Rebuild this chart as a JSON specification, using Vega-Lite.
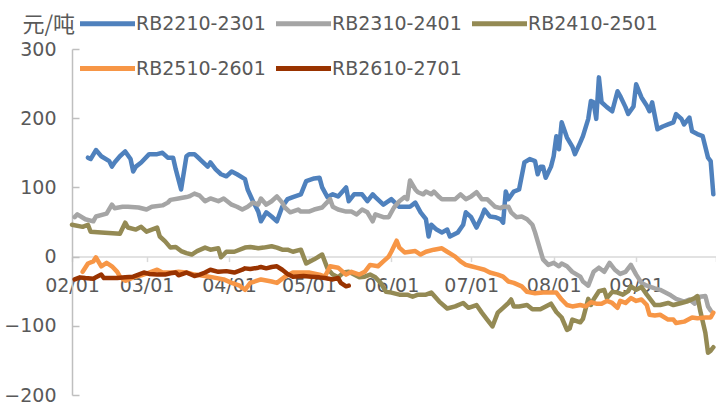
{
  "$schema": "https://vega.github.io/schema/vega-lite/v6.json",
  "autosize": {"type": "none"},
  "width": 644,
  "height": 346,
  "padding": {"left": 72, "top": 49, "right": 0, "bottom": 10},
  "background": "white",
  "config": {"view": {"stroke": null}, "font": "DejaVu Sans"},
  "datasets": {
    "a": [
      {"d":"2023/02/07","v":143},{"d":"2023/02/08","v":141},{"d":"2023/02/10","v":154},{"d":"2023/02/12","v":145},{"d":"2023/02/15","v":138},{"d":"2023/02/16","v":130},{"d":"2023/02/17","v":136},{"d":"2023/02/19","v":145},{"d":"2023/02/21","v":152},{"d":"2023/02/23","v":141},{"d":"2023/02/24","v":123},{"d":"2023/02/25","v":130},{"d":"2023/02/27","v":136},{"d":"2023/03/02","v":148},{"d":"2023/03/05","v":148},{"d":"2023/03/07","v":150},{"d":"2023/03/09","v":143},{"d":"2023/03/11","v":143},{"d":"2023/03/12","v":126},{"d":"2023/03/14","v":97},{"d":"2023/03/16","v":145},{"d":"2023/03/17","v":148},{"d":"2023/03/19","v":148},{"d":"2023/03/21","v":141},{"d":"2023/03/24","v":130},{"d":"2023/03/25","v":136},{"d":"2023/03/27","v":126},{"d":"2023/03/29","v":119},{"d":"2023/03/31","v":116},{"d":"2023/04/02","v":123},{"d":"2023/04/04","v":119},{"d":"2023/04/07","v":112},{"d":"2023/04/08","v":97},{"d":"2023/04/10","v":80},{"d":"2023/04/12","v":65},{"d":"2023/04/13","v":51},{"d":"2023/04/15","v":64},{"d":"2023/04/17","v":58},{"d":"2023/04/19","v":51},{"d":"2023/04/21","v":72},{"d":"2023/04/23","v":83},{"d":"2023/04/25","v":86},{"d":"2023/04/28","v":90},{"d":"2023/04/30","v":109},{"d":"2023/05/03","v":113},{"d":"2023/05/05","v":114},{"d":"2023/05/06","v":100},{"d":"2023/05/08","v":86},{"d":"2023/05/10","v":90},{"d":"2023/05/12","v":87},{"d":"2023/05/15","v":100},{"d":"2023/05/16","v":80},{"d":"2023/05/18","v":90},{"d":"2023/05/21","v":90},{"d":"2023/05/23","v":80},{"d":"2023/05/25","v":90},{"d":"2023/05/26","v":86},{"d":"2023/05/29","v":75},{"d":"2023/06/01","v":83},{"d":"2023/06/04","v":72},{"d":"2023/06/08","v":72},{"d":"2023/06/10","v":78},{"d":"2023/06/12","v":64},{"d":"2023/06/14","v":54},{"d":"2023/06/15","v":29},{"d":"2023/06/16","v":46},{"d":"2023/06/18","v":39},{"d":"2023/06/20","v":35},{"d":"2023/06/22","v":39},{"d":"2023/06/23","v":29},{"d":"2023/06/26","v":35},{"d":"2023/06/28","v":46},{"d":"2023/06/29","v":64},{"d":"2023/07/01","v":57},{"d":"2023/07/03","v":42},{"d":"2023/07/05","v":58},{"d":"2023/07/06","v":68},{"d":"2023/07/08","v":58},{"d":"2023/07/10","v":57},{"d":"2023/07/12","v":54},{"d":"2023/07/13","v":49},{"d":"2023/07/14","v":94},{"d":"2023/07/15","v":83},{"d":"2023/07/17","v":94},{"d":"2023/07/19","v":97},{"d":"2023/07/21","v":136},{"d":"2023/07/23","v":141},{"d":"2023/07/25","v":138},{"d":"2023/07/26","v":119},{"d":"2023/07/27","v":130},{"d":"2023/07/28","v":130},{"d":"2023/07/29","v":114},{"d":"2023/07/31","v":130},{"d":"2023/08/01","v":145},{"d":"2023/08/02","v":174},{"d":"2023/08/03","v":155},{"d":"2023/08/04","v":194},{"d":"2023/08/06","v":172},{"d":"2023/08/08","v":159},{"d":"2023/08/09","v":148},{"d":"2023/08/11","v":165},{"d":"2023/08/12","v":174},{"d":"2023/08/14","v":199},{"d":"2023/08/15","v":225},{"d":"2023/08/16","v":223},{"d":"2023/08/17","v":199},{"d":"2023/08/18","v":259},{"d":"2023/08/19","v":223},{"d":"2023/08/21","v":216},{"d":"2023/08/23","v":210},{"d":"2023/08/25","v":239},{"d":"2023/08/26","v":232},{"d":"2023/08/28","v":216},{"d":"2023/08/29","v":206},{"d":"2023/08/31","v":217},{"d":"2023/09/01","v":249},{"d":"2023/09/03","v":230},{"d":"2023/09/05","v":218},{"d":"2023/09/06","v":210},{"d":"2023/09/07","v":223},{"d":"2023/09/09","v":184},{"d":"2023/09/11","v":188},{"d":"2023/09/13","v":191},{"d":"2023/09/15","v":194},{"d":"2023/09/16","v":206},{"d":"2023/09/18","v":199},{"d":"2023/09/19","v":191},{"d":"2023/09/21","v":201},{"d":"2023/09/22","v":181},{"d":"2023/09/24","v":177},{"d":"2023/09/26","v":174},{"d":"2023/09/28","v":143},{"d":"2023/09/29","v":138},{"d":"2023/09/30","v":90}
    ],
    "b": [
      {"d":"2023/02/02","v":57},{"d":"2023/02/03","v":61},{"d":"2023/02/06","v":54},{"d":"2023/02/09","v":51},{"d":"2023/02/10","v":58},{"d":"2023/02/14","v":62},{"d":"2023/02/16","v":75},{"d":"2023/02/17","v":70},{"d":"2023/02/20","v":72},{"d":"2023/02/22","v":72},{"d":"2023/02/26","v":71},{"d":"2023/03/01","v":68},{"d":"2023/03/03","v":72},{"d":"2023/03/07","v":74},{"d":"2023/03/09","v":78},{"d":"2023/03/10","v":82},{"d":"2023/03/13","v":84},{"d":"2023/03/16","v":86},{"d":"2023/03/17","v":87},{"d":"2023/03/19","v":91},{"d":"2023/03/21","v":88},{"d":"2023/03/23","v":80},{"d":"2023/03/25","v":84},{"d":"2023/03/28","v":80},{"d":"2023/03/30","v":84},{"d":"2023/04/02","v":75},{"d":"2023/04/04","v":72},{"d":"2023/04/06","v":68},{"d":"2023/04/08","v":72},{"d":"2023/04/10","v":78},{"d":"2023/04/12","v":75},{"d":"2023/04/13","v":84},{"d":"2023/04/15","v":75},{"d":"2023/04/17","v":80},{"d":"2023/04/19","v":87},{"d":"2023/04/21","v":78},{"d":"2023/04/22","v":71},{"d":"2023/04/24","v":64},{"d":"2023/04/27","v":68},{"d":"2023/04/28","v":65},{"d":"2023/05/01","v":65},{"d":"2023/05/03","v":68},{"d":"2023/05/06","v":71},{"d":"2023/05/09","v":83},{"d":"2023/05/10","v":72},{"d":"2023/05/12","v":68},{"d":"2023/05/15","v":65},{"d":"2023/05/17","v":65},{"d":"2023/05/19","v":61},{"d":"2023/05/21","v":68},{"d":"2023/05/23","v":64},{"d":"2023/05/25","v":51},{"d":"2023/05/26","v":61},{"d":"2023/05/29","v":57},{"d":"2023/05/31","v":57},{"d":"2023/06/02","v":71},{"d":"2023/06/04","v":80},{"d":"2023/06/06","v":86},{"d":"2023/06/07","v":83},{"d":"2023/06/08","v":110},{"d":"2023/06/10","v":97},{"d":"2023/06/11","v":93},{"d":"2023/06/13","v":90},{"d":"2023/06/14","v":94},{"d":"2023/06/16","v":90},{"d":"2023/06/17","v":94},{"d":"2023/06/19","v":86},{"d":"2023/06/20","v":83},{"d":"2023/06/22","v":83},{"d":"2023/06/25","v":83},{"d":"2023/06/27","v":90},{"d":"2023/06/29","v":83},{"d":"2023/07/01","v":87},{"d":"2023/07/03","v":93},{"d":"2023/07/05","v":83},{"d":"2023/07/07","v":83},{"d":"2023/07/10","v":72},{"d":"2023/07/12","v":70},{"d":"2023/07/13","v":72},{"d":"2023/07/15","v":72},{"d":"2023/07/16","v":64},{"d":"2023/07/18","v":57},{"d":"2023/07/20","v":58},{"d":"2023/07/22","v":54},{"d":"2023/07/24","v":46},{"d":"2023/07/25","v":35},{"d":"2023/07/26","v":22},{"d":"2023/07/28","v":-4},{"d":"2023/07/30","v":-12},{"d":"2023/08/01","v":-9},{"d":"2023/08/03","v":-14},{"d":"2023/08/04","v":-10},{"d":"2023/08/06","v":-14},{"d":"2023/08/08","v":-22},{"d":"2023/08/11","v":-29},{"d":"2023/08/12","v":-36},{"d":"2023/08/14","v":-42},{"d":"2023/08/16","v":-22},{"d":"2023/08/18","v":-16},{"d":"2023/08/20","v":-22},{"d":"2023/08/22","v":-9},{"d":"2023/08/24","v":-19},{"d":"2023/08/26","v":-25},{"d":"2023/08/28","v":-22},{"d":"2023/08/30","v":-12},{"d":"2023/09/01","v":-26},{"d":"2023/09/03","v":-38},{"d":"2023/09/05","v":-42},{"d":"2023/09/08","v":-46},{"d":"2023/09/10","v":-48},{"d":"2023/09/12","v":-52},{"d":"2023/09/14","v":-56},{"d":"2023/09/16","v":-61},{"d":"2023/09/19","v":-65},{"d":"2023/09/21","v":-62},{"d":"2023/09/23","v":-68},{"d":"2023/09/25","v":-58},{"d":"2023/09/27","v":-57},{"d":"2023/09/28","v":-72},{"d":"2023/09/29","v":-78}
    ],
    "c": [
      {"d":"2023/02/01","v":46},{"d":"2023/02/05","v":43},{"d":"2023/02/07","v":46},{"d":"2023/02/08","v":36},{"d":"2023/02/12","v":35},{"d":"2023/02/19","v":33},{"d":"2023/02/21","v":49},{"d":"2023/02/22","v":42},{"d":"2023/02/25","v":39},{"d":"2023/02/27","v":43},{"d":"2023/03/01","v":36},{"d":"2023/03/03","v":39},{"d":"2023/03/05","v":42},{"d":"2023/03/06","v":29},{"d":"2023/03/08","v":22},{"d":"2023/03/10","v":13},{"d":"2023/03/12","v":14},{"d":"2023/03/14","v":8},{"d":"2023/03/16","v":5},{"d":"2023/03/18","v":3},{"d":"2023/03/20","v":8},{"d":"2023/03/23","v":13},{"d":"2023/03/25","v":10},{"d":"2023/03/28","v":12},{"d":"2023/03/29","v":-1},{"d":"2023/03/31","v":7},{"d":"2023/04/03","v":7},{"d":"2023/04/07","v":13},{"d":"2023/04/09","v":14},{"d":"2023/04/12","v":12},{"d":"2023/04/14","v":13},{"d":"2023/04/17","v":15},{"d":"2023/04/19","v":13},{"d":"2023/04/21","v":10},{"d":"2023/04/23","v":10},{"d":"2023/04/25","v":7},{"d":"2023/04/28","v":10},{"d":"2023/04/29","v":0},{"d":"2023/04/30","v":-10},{"d":"2023/05/03","v":-4},{"d":"2023/05/06","v":3},{"d":"2023/05/08","v":-17},{"d":"2023/05/10","v":-26},{"d":"2023/05/12","v":-30},{"d":"2023/05/14","v":-23},{"d":"2023/05/16","v":-22},{"d":"2023/05/18","v":-26},{"d":"2023/05/20","v":-30},{"d":"2023/05/22","v":-29},{"d":"2023/05/24","v":-26},{"d":"2023/05/26","v":-30},{"d":"2023/05/28","v":-38},{"d":"2023/05/30","v":-51},{"d":"2023/06/01","v":-52},{"d":"2023/06/04","v":-55},{"d":"2023/06/07","v":-55},{"d":"2023/06/09","v":-58},{"d":"2023/06/11","v":-55},{"d":"2023/06/14","v":-55},{"d":"2023/06/16","v":-52},{"d":"2023/06/19","v":-65},{"d":"2023/06/22","v":-75},{"d":"2023/06/25","v":-72},{"d":"2023/06/28","v":-67},{"d":"2023/06/30","v":-74},{"d":"2023/07/03","v":-70},{"d":"2023/07/05","v":-81},{"d":"2023/07/07","v":-91},{"d":"2023/07/09","v":-101},{"d":"2023/07/11","v":-81},{"d":"2023/07/13","v":-74},{"d":"2023/07/15","v":-67},{"d":"2023/07/16","v":-62},{"d":"2023/07/17","v":-72},{"d":"2023/07/19","v":-72},{"d":"2023/07/22","v":-70},{"d":"2023/07/24","v":-76},{"d":"2023/07/27","v":-76},{"d":"2023/07/29","v":-72},{"d":"2023/07/31","v":-68},{"d":"2023/08/02","v":-80},{"d":"2023/08/04","v":-88},{"d":"2023/08/06","v":-106},{"d":"2023/08/07","v":-104},{"d":"2023/08/08","v":-91},{"d":"2023/08/11","v":-95},{"d":"2023/08/12","v":-90},{"d":"2023/08/14","v":-61},{"d":"2023/08/15","v":-70},{"d":"2023/08/16","v":-62},{"d":"2023/08/18","v":-50},{"d":"2023/08/20","v":-48},{"d":"2023/08/21","v":-60},{"d":"2023/08/23","v":-51},{"d":"2023/08/25","v":-52},{"d":"2023/08/27","v":-55},{"d":"2023/08/29","v":-50},{"d":"2023/08/30","v":-43},{"d":"2023/09/01","v":-48},{"d":"2023/09/03","v":-44},{"d":"2023/09/05","v":-55},{"d":"2023/09/08","v":-70},{"d":"2023/09/10","v":-70},{"d":"2023/09/13","v":-67},{"d":"2023/09/15","v":-70},{"d":"2023/09/18","v":-67},{"d":"2023/09/20","v":-65},{"d":"2023/09/23","v":-60},{"d":"2023/09/24","v":-57},{"d":"2023/09/25","v":-77},{"d":"2023/09/27","v":-110},{"d":"2023/09/28","v":-139},{"d":"2023/09/29","v":-136},{"d":"2023/09/30","v":-131}
    ],
    "e": [
      {"d":"2023/02/05","v":-22},{"d":"2023/02/07","v":-10},{"d":"2023/02/09","v":-7},{"d":"2023/02/10","v":-1},{"d":"2023/02/12","v":-14},{"d":"2023/02/14","v":-9},{"d":"2023/02/16","v":-14},{"d":"2023/02/18","v":-22},{"d":"2023/02/19","v":-29},{"d":"2023/02/21","v":-35},{"d":"2023/02/24","v":-30},{"d":"2023/02/27","v":-27},{"d":"2023/03/02","v":-23},{"d":"2023/03/05","v":-19},{"d":"2023/03/07","v":-23},{"d":"2023/03/11","v":-23},{"d":"2023/03/13","v":-22},{"d":"2023/03/16","v":-23},{"d":"2023/03/19","v":-26},{"d":"2023/03/23","v":-28},{"d":"2023/03/26","v":-30},{"d":"2023/03/30","v":-33},{"d":"2023/04/02","v":-38},{"d":"2023/04/05","v":-42},{"d":"2023/04/07","v":-48},{"d":"2023/04/09","v":-38},{"d":"2023/04/13","v":-33},{"d":"2023/04/17","v":-36},{"d":"2023/04/19","v":-38},{"d":"2023/04/22","v":-29},{"d":"2023/04/25","v":-23},{"d":"2023/04/29","v":-23},{"d":"2023/05/01","v":-23},{"d":"2023/05/05","v":-26},{"d":"2023/05/07","v":-29},{"d":"2023/05/09","v":-14},{"d":"2023/05/12","v":-16},{"d":"2023/05/15","v":-26},{"d":"2023/05/17","v":-22},{"d":"2023/05/20","v":-26},{"d":"2023/05/22","v":-22},{"d":"2023/05/24","v":-12},{"d":"2023/05/27","v":-14},{"d":"2023/05/29","v":-7},{"d":"2023/05/31","v":0},{"d":"2023/06/01","v":7},{"d":"2023/06/03","v":23},{"d":"2023/06/04","v":13},{"d":"2023/06/06","v":6},{"d":"2023/06/08","v":7},{"d":"2023/06/10","v":8},{"d":"2023/06/12","v":3},{"d":"2023/06/14","v":7},{"d":"2023/06/17","v":10},{"d":"2023/06/20","v":12},{"d":"2023/06/22","v":7},{"d":"2023/06/25","v":0},{"d":"2023/06/27","v":-7},{"d":"2023/06/29","v":-12},{"d":"2023/07/01","v":-14},{"d":"2023/07/03","v":-16},{"d":"2023/07/06","v":-19},{"d":"2023/07/08","v":-23},{"d":"2023/07/11","v":-26},{"d":"2023/07/13","v":-29},{"d":"2023/07/15","v":-36},{"d":"2023/07/17","v":-38},{"d":"2023/07/20","v":-43},{"d":"2023/07/22","v":-51},{"d":"2023/07/25","v":-53},{"d":"2023/07/28","v":-52},{"d":"2023/07/30","v":-52},{"d":"2023/08/02","v":-52},{"d":"2023/08/04","v":-62},{"d":"2023/08/06","v":-70},{"d":"2023/08/08","v":-72},{"d":"2023/08/11","v":-70},{"d":"2023/08/13","v":-72},{"d":"2023/08/15","v":-66},{"d":"2023/08/17","v":-68},{"d":"2023/08/19","v":-68},{"d":"2023/08/21","v":-64},{"d":"2023/08/23","v":-67},{"d":"2023/08/25","v":-74},{"d":"2023/08/26","v":-64},{"d":"2023/08/28","v":-67},{"d":"2023/08/30","v":-60},{"d":"2023/09/01","v":-64},{"d":"2023/09/03","v":-62},{"d":"2023/09/05","v":-70},{"d":"2023/09/06","v":-84},{"d":"2023/09/08","v":-85},{"d":"2023/09/10","v":-84},{"d":"2023/09/13","v":-91},{"d":"2023/09/15","v":-91},{"d":"2023/09/16","v":-96},{"d":"2023/09/19","v":-94},{"d":"2023/09/22","v":-88},{"d":"2023/09/24","v":-89},{"d":"2023/09/27","v":-88},{"d":"2023/09/29","v":-88},{"d":"2023/09/30","v":-81}
    ],
    "f": [
      {"d":"2023/02/02","v":-33},{"d":"2023/02/04","v":-30},{"d":"2023/02/06","v":-31},{"d":"2023/02/09","v":-32},{"d":"2023/02/10","v":-30},{"d":"2023/02/12","v":-26},{"d":"2023/02/13","v":-31},{"d":"2023/02/18","v":-31},{"d":"2023/02/21","v":-30},{"d":"2023/02/24","v":-29},{"d":"2023/02/26","v":-26},{"d":"2023/02/28","v":-23},{"d":"2023/03/02","v":-25},{"d":"2023/03/05","v":-26},{"d":"2023/03/08","v":-26},{"d":"2023/03/10","v":-24},{"d":"2023/03/12","v":-23},{"d":"2023/03/13","v":-27},{"d":"2023/03/16","v":-23},{"d":"2023/03/19","v":-28},{"d":"2023/03/21","v":-26},{"d":"2023/03/23","v":-23},{"d":"2023/03/25","v":-19},{"d":"2023/03/28","v":-22},{"d":"2023/03/31","v":-21},{"d":"2023/04/03","v":-23},{"d":"2023/04/06","v":-19},{"d":"2023/04/07","v":-17},{"d":"2023/04/09","v":-18},{"d":"2023/04/12","v":-16},{"d":"2023/04/13","v":-15},{"d":"2023/04/15","v":-17},{"d":"2023/04/17","v":-15},{"d":"2023/04/19","v":-14},{"d":"2023/04/21","v":-19},{"d":"2023/04/23","v":-25},{"d":"2023/04/25","v":-29},{"d":"2023/04/29","v":-28},{"d":"2023/05/02","v":-29},{"d":"2023/05/05","v":-30},{"d":"2023/05/07","v":-31},{"d":"2023/05/10","v":-33},{"d":"2023/05/12","v":-31},{"d":"2023/05/13","v":-38},{"d":"2023/05/15","v":-43},{"d":"2023/05/16","v":-42}
    ]
  },
  "layer": [
    {
      "data": {"name": "a"},
      "transform": [{"calculate": "'RB2210-2301'", "as": "s"}],
      "mark": {"type": "line", "strokeWidth": 4.5, "strokeJoin": "round", "strokeCap": "round"},
      "encoding": {
        "x": {"field": "d", "type": "temporal"},
        "y": {"field": "v", "type": "quantitative"},
        "color": {"field": "s", "type": "nominal"}
      }
    },
    {
      "data": {"name": "b"},
      "transform": [{"calculate": "'RB2310-2401'", "as": "s"}],
      "mark": {"type": "line", "strokeWidth": 4.5, "strokeJoin": "round", "strokeCap": "round"},
      "encoding": {
        "x": {"field": "d", "type": "temporal"},
        "y": {"field": "v", "type": "quantitative"},
        "color": {"field": "s", "type": "nominal"}
      }
    },
    {
      "data": {"name": "c"},
      "transform": [{"calculate": "'RB2410-2501'", "as": "s"}],
      "mark": {"type": "line", "strokeWidth": 4.5, "strokeJoin": "round", "strokeCap": "round"},
      "encoding": {
        "x": {"field": "d", "type": "temporal"},
        "y": {"field": "v", "type": "quantitative"},
        "color": {"field": "s", "type": "nominal"}
      }
    },
    {
      "data": {"name": "e"},
      "transform": [{"calculate": "'RB2510-2601'", "as": "s"}],
      "mark": {"type": "line", "strokeWidth": 4.5, "strokeJoin": "round", "strokeCap": "round"},
      "encoding": {
        "x": {"field": "d", "type": "temporal"},
        "y": {"field": "v", "type": "quantitative"},
        "color": {"field": "s", "type": "nominal"}
      }
    },
    {
      "data": {"name": "f"},
      "transform": [{"calculate": "'RB2610-2701'", "as": "s"}],
      "mark": {"type": "line", "strokeWidth": 4.5, "strokeJoin": "round", "strokeCap": "round"},
      "encoding": {
        "x": {"field": "d", "type": "temporal"},
        "y": {"field": "v", "type": "quantitative"},
        "color": {"field": "s", "type": "nominal"}
      }
    }
  ],
  "resolve": {"scale": {"color": "shared"}},
  "encoding": {
    "x": {
      "field": "d", "type": "temporal",
      "scale": {"domain": [{"year": 2023, "month": 2, "date": 1}, {"year": 2023, "month": 10, "date": 1}]},
      "axis": {
        "title": null, "offset": -138.4, "grid": false,
        "values": [{"year":2023,"month":2,"date":1},{"year":2023,"month":3,"date":1},{"year":2023,"month":4,"date":1},{"year":2023,"month":5,"date":1},{"year":2023,"month":6,"date":1},{"year":2023,"month":7,"date":1},{"year":2023,"month":8,"date":1},{"year":2023,"month":9,"date":1},{"year":2023,"month":10,"date":1}],
        "labelExpr": "month(datum.value) == 9 ? '' : timeFormat(datum.value, '%m/%d')",
        "labelFontSize": 19, "labelColor": "#595959", "labelPadding": 15, "labelFlush": false, "labelOverlap": false,
        "domainColor": "#d9d9d9", "domainWidth": 1.5, "tickColor": "#d9d9d9", "tickWidth": 1.5, "tickSize": 5
      }
    },
    "y": {
      "field": "v", "type": "quantitative",
      "scale": {"domain": [-200, 300], "nice": false, "zero": false},
      "axis": {
        "title": "元/吨", "titleAngle": 0, "titleX": -50, "titleY": -25, "titleAlign": "left", "titleBaseline": "middle",
        "titleFont": "Noto Sans CJK SC", "titleFontSize": 22, "titleFontWeight": "normal", "titleColor": "#595959",
        "values": [-200, -100, 0, 100, 200, 300], "grid": false,
        "labelFontSize": 19, "labelColor": "#595959", "labelPadding": 23,
        "domainColor": "#bfbfbf", "domainWidth": 1.5, "tickColor": "#bfbfbf", "tickWidth": 1.5, "tickSize": -7
      }
    },
    "color": {
      "field": "s", "type": "nominal",
      "scale": {
        "domain": ["RB2210-2301", "RB2310-2401", "RB2410-2501", "RB2510-2601", "RB2610-2701"],
        "range": ["#4f81bd", "#a5a5a5", "#948a54", "#f79646", "#993300"]
      },
      "legend": {
        "title": null, "orient": "none", "legendX": 11, "legendY": -50, "direction": "horizontal", "columns": 3,
        "symbolType": "M-1.25,0L1.25,0", "symbolSize": 1936, "symbolStrokeWidth": 5,
        "labelFontSize": 19, "labelColor": "#595959", "labelOffset": 4, "columnPadding": 0, "rowPadding": 10, "padding": 0
      }
    }
  }
}
